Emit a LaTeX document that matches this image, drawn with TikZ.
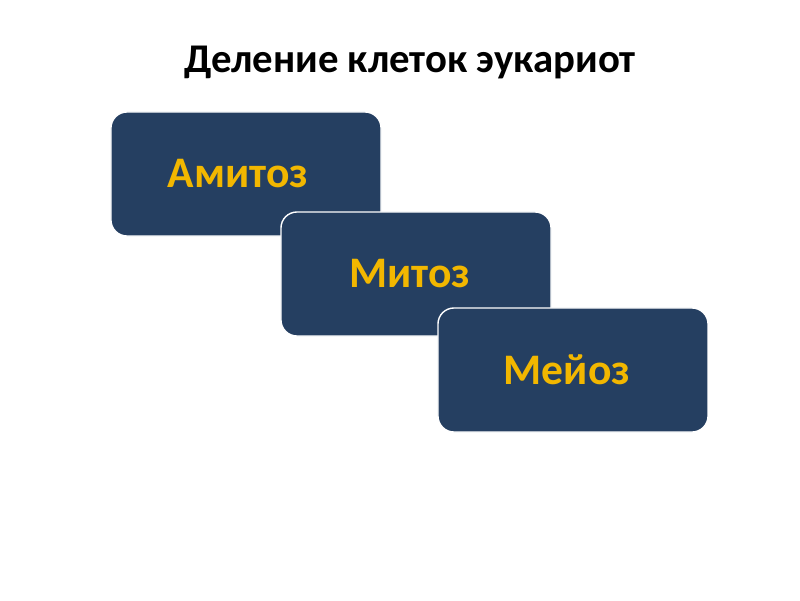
\documentclass[tikz,border=0pt]{standalone}
\usepackage{fontspec}
\setmainfont{Carlito}
\definecolor{boxblue}{HTML}{253F61}
\definecolor{gold}{HTML}{F2B700}
\begin{document}
\begin{tikzpicture}[x=0.025cm,y=-0.025cm,
  stage/.style={draw=white,line width=1pt,fill=boxblue,rounded corners=0.4cm,minimum width=6.75cm,minimum height=3.1cm,inner sep=0pt,text=gold,font=\bfseries\fontsize{31}{36}\selectfont}]
\useasboundingbox (0,0) rectangle (800,600);
\node (title) at (410,62) {\bfseries\fontsize{29}{34}\selectfont Деление клеток эукариот};
\node[stage] (a) at (246,174) {\hspace*{-0.4cm}Амитоз};
\node[stage] (m) at (416,274) {\hspace*{-0.3cm}Митоз};
\node[stage] (e) at (573,370) {\hspace*{-0.3cm}Мейоз};
\end{tikzpicture}
\end{document}
